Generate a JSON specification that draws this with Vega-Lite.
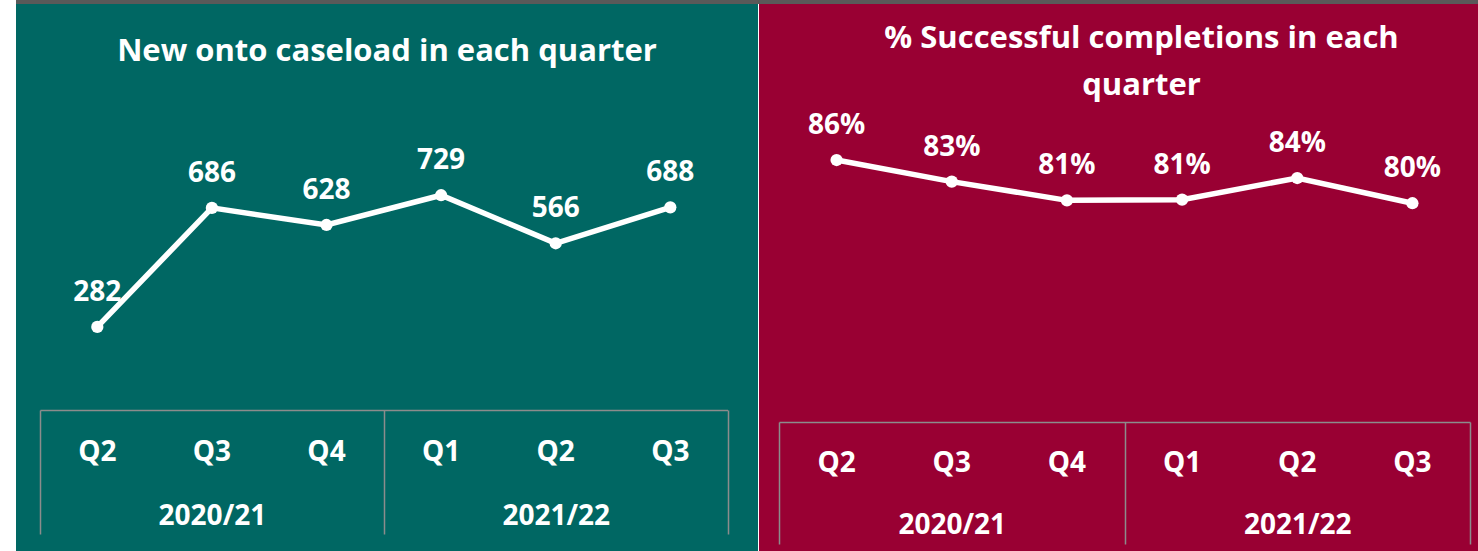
{
  "$schema": "https://vega.github.io/schema/vega-lite/v6.json",
  "background": "white",
  "padding": {"left": 16, "top": 0, "right": 0, "bottom": 0},
  "config": {"view": {"stroke": null}, "font": "Open Sans"},
  "spacing": 0,
  "vconcat": [
    {
      "data": {"values": [{"part": "top strip"}]},
      "width": 1462,
      "height": 4,
      "view": {"fill": "#595959", "stroke": null},
      "mark": {"type": "rect", "color": "#595959"},
      "encoding": {}
    },
    {
      "spacing": 1,
      "hconcat": [
        {
          "width": 742,
          "height": 547,
          "view": {"fill": "#006763", "stroke": null},
          "title": {"text": "New onto caseload in each quarter", "color": "white", "font": "Open Sans", "fontSize": 31, "fontWeight": "bold", "anchor": "middle", "frame": "group", "baseline": "middle", "offset": -79},
          "resolve": {"scale": {"x": "independent"}, "axis": {"x": "independent"}},
          "layer": [
            {
              "data": {"values": [
                {"period": "2020/21 Q2", "value": 282},
                {"period": "2020/21 Q3", "value": 686},
                {"period": "2020/21 Q4", "value": 628},
                {"period": "2021/22 Q1", "value": 729},
                {"period": "2021/22 Q2", "value": 566},
                {"period": "2021/22 Q3", "value": 688}
              ]},
              "encoding": {
                "x": {
                  "field": "period", "type": "ordinal", "sort": null,
                  "scale": {"type": "band", "range": [24, 711.6], "paddingInner": 0, "paddingOuter": 0},
                  "axis": {
                    "orient": "bottom", "offset": -141, "title": null, "grid": false,
                    "domain": false, "ticks": true, "tickSize": 0, "tickOpacity": 0,
                    "labelExpr": "substring(datum.value, 8)",
                    "labelFont": "Open Sans", "labelFontWeight": "bold", "labelFontSize": 28, "labelColor": "white",
                    "labelBaseline": "middle", "labelPadding": 42, "labelAngle": 0,
                    "labelOverlap": false, "labelFlush": false
                  }
                },
                "y": {"field": "value", "type": "quantitative", "scale": {"domain": [0, 1000], "range": [406, 111.4]}, "axis": null}
              },
              "layer": [
                {"mark": {"type": "line", "color": "white", "strokeWidth": 5.5}},
                {"mark": {"type": "circle", "color": "white", "size": 150, "opacity": 1}},
                {"mark": {"type": "text", "color": "white", "font": "Open Sans", "fontWeight": "bold", "fontSize": 28, "dy": -34, "baseline": "middle"},
                 "encoding": {"text": {"field": "value", "type": "quantitative", "format": "d"}}}
              ]
            },
            {
              "data": {"values": [{"year": "2020/21"}, {"year": "2021/22"}]},
              "mark": {"type": "rule", "opacity": 0},
              "encoding": {
                "x": {
                  "field": "year", "type": "ordinal", "sort": null,
                  "scale": {"type": "band", "range": [24, 711.6], "paddingInner": 0, "paddingOuter": 0},
                  "axis": {
                    "orient": "bottom", "offset": -141, "title": null, "grid": false,
                    "domainColor": "#8c8c8c", "domainWidth": 1.5,
                    "tickColor": "#8c8c8c", "tickWidth": 1.5, "tickSize": 124, "tickBand": "extent",
                    "labelFont": "Open Sans", "labelFontWeight": "bold", "labelFontSize": 28, "labelColor": "white",
                    "labelBaseline": "middle", "labelPadding": -18, "labelAngle": 0,
                    "labelOverlap": false, "labelFlush": false
                  }
                }
              }
            }
          ]
        },
        {
          "width": 719,
          "height": 547,
          "view": {"fill": "#990033", "stroke": null},
          "title": {"text": ["% Successful completions in each", "quarter"], "color": "white", "font": "Open Sans", "fontSize": 31, "fontWeight": "bold", "anchor": "middle", "frame": "group", "baseline": "middle", "lineHeight": 47, "offset": -113, "dx": 23},
          "resolve": {"scale": {"x": "independent"}, "axis": {"x": "independent"}},
          "layer": [
            {
              "data": {"values": [
                {"period": "2020/21 Q2", "value": 0.863},
                {"period": "2020/21 Q3", "value": 0.833},
                {"period": "2020/21 Q4", "value": 0.807},
                {"period": "2021/22 Q1", "value": 0.808},
                {"period": "2021/22 Q2", "value": 0.838},
                {"period": "2021/22 Q3", "value": 0.803}
              ]},
              "encoding": {
                "x": {
                  "field": "period", "type": "ordinal", "sort": null,
                  "scale": {"type": "band", "range": [20, 711], "paddingInner": 0, "paddingOuter": 0},
                  "axis": {
                    "orient": "bottom", "offset": -129, "title": null, "grid": false,
                    "domain": false, "ticks": true, "tickSize": 0, "tickOpacity": 0,
                    "labelExpr": "substring(datum.value, 8)",
                    "labelFont": "Open Sans", "labelFontWeight": "bold", "labelFontSize": 28, "labelColor": "white",
                    "labelBaseline": "middle", "labelPadding": 41, "labelAngle": 0,
                    "labelOverlap": false, "labelFlush": false
                  }
                },
                "y": {"field": "value", "type": "quantitative", "scale": {"domain": [0.8, 0.9], "range": [201.4, 129.4]}, "axis": null}
              },
              "layer": [
                {"mark": {"type": "line", "color": "white", "strokeWidth": 5.5}},
                {"mark": {"type": "circle", "color": "white", "size": 150, "opacity": 1}},
                {"mark": {"type": "text", "color": "white", "font": "Open Sans", "fontWeight": "bold", "fontSize": 28, "dy": -34, "baseline": "middle"},
                 "encoding": {"text": {"field": "value", "type": "quantitative", "format": ".0%"}}}
              ]
            },
            {
              "data": {"values": [{"year": "2020/21"}, {"year": "2021/22"}]},
              "mark": {"type": "rule", "opacity": 0},
              "encoding": {
                "x": {
                  "field": "year", "type": "ordinal", "sort": null,
                  "scale": {"type": "band", "range": [20, 711], "paddingInner": 0, "paddingOuter": 0},
                  "axis": {
                    "orient": "bottom", "offset": -129, "title": null, "grid": false,
                    "domainColor": "#8c8c8c", "domainWidth": 1.5,
                    "tickColor": "#8c8c8c", "tickWidth": 1.5, "tickSize": 122, "tickBand": "extent",
                    "labelFont": "Open Sans", "labelFontWeight": "bold", "labelFontSize": 28, "labelColor": "white",
                    "labelBaseline": "middle", "labelPadding": -19, "labelAngle": 0,
                    "labelOverlap": false, "labelFlush": false
                  }
                }
              }
            }
          ]
        }
      ]
    }
  ]
}
